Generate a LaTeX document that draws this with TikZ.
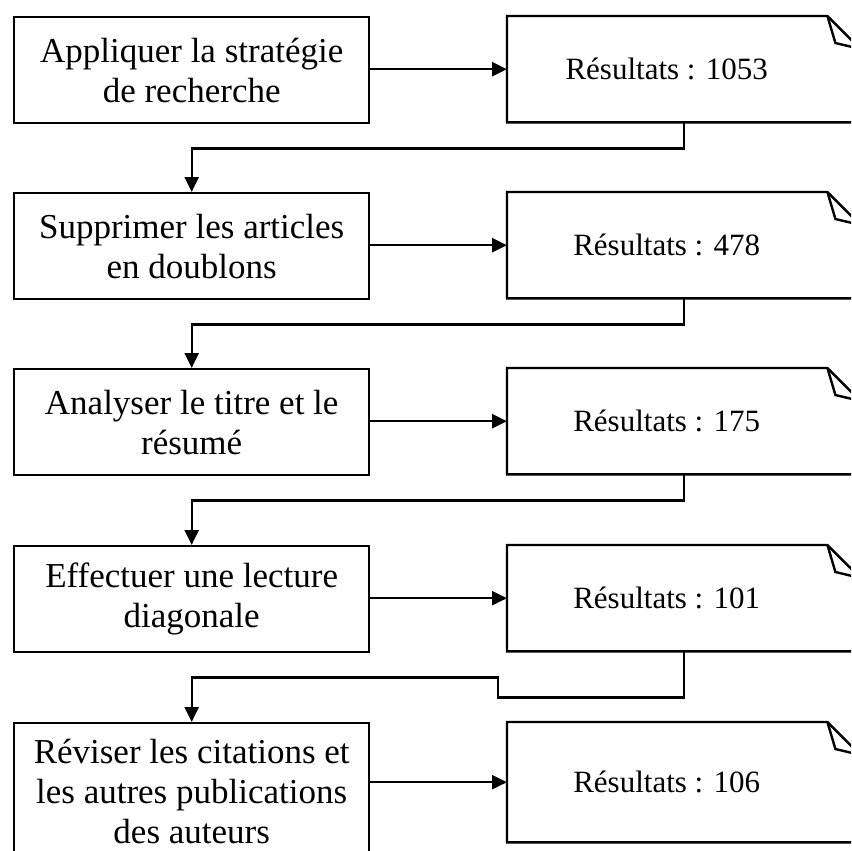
\documentclass[tikz,border=0pt]{standalone}
\usepackage{fontspec}
\setmainfont{Liberation Serif}
\usetikzlibrary{arrows.meta}

% text of a result box, centred left of the folded corner
\newcommand\restext[1]{\makebox[353pt][l]{\makebox[319pt]{#1}}}

\begin{document}
\begin{tikzpicture}[x=1pt,y=-1pt,
  every node/.style={inner sep=0pt},
  stepbox/.style={draw, line width=2.4pt, anchor=north west, align=center,
                  font=\fontsize{35pt}{40pt}\selectfont,
                  minimum width=355pt, minimum height=106pt},
  resbox/.style={anchor=north west, font=\fontsize{31pt}{36pt}\selectfont,
                 minimum width=353pt, minimum height=106pt},
  outline/.style={line width=2.4pt, line join=miter},
  flow/.style={line width=2.4pt, -{Triangle[length=15pt,width=14pt]}}]
\useasboundingbox (0,0) rectangle (851,851);
\clip (0,0) rectangle (851,851);

% process steps
\node[stepbox] (l1) at (13,16)  {Appliquer la stratégie\\de recherche};
\node[stepbox] (l2) at (13,192) {Supprimer les articles\\en doublons};
\node[stepbox] (l3) at (13,368) {Analyser le titre et le\\résumé};
\node[stepbox] (l4) at (13,545) {Effectuer une lecture\\diagonale};
\node[stepbox, minimum height=136pt] (l5) at (13,722)
  {Réviser les citations et\\les autres publications\\des auteurs};

% result notes
\node[resbox] (r1) at (507,16)  {\restext{Résultats : 1053}};
\node[resbox] (r2) at (507,192) {\restext{Résultats : 478}};
\node[resbox] (r3) at (507,368) {\restext{Résultats : 175}};
\node[resbox] (r4) at (507,545) {\restext{Résultats : 101}};
\node[resbox, minimum height=120pt] (r5) at (507,722) {\restext{Résultats : 106}};

% note outlines with the folded top-right corner
\foreach \r in {r1,r2,r3,r4,r5}{
  \draw[outline] (\r.north west) -- ([xshift=-33pt]\r.north east)
    -- ([yshift=-33pt]\r.north east) -- (\r.south east)
    -- (\r.south west) -- cycle;
  \draw[outline] ([xshift=-33pt]\r.north east)
    -- ([xshift=-25pt,yshift=-27pt]\r.north east)
    -- ([yshift=-33pt]\r.north east);
}

% step -> result
\foreach \i in {1,...,5}{
  \draw[flow] (l\i.east |- r\i.west) -- (r\i.west);
}

% result -> next step
\draw[flow] (r1.south) -- ++(0,26) -| (l2.north);
\draw[flow] (r2.south) -- ++(0,26) -| (l3.north);
\draw[flow] (r3.south) -- ++(0,26) -| (l4.north);
\draw[flow] (r4.south) -- ++(0,46) -- ++(-186,0) -- ++(0,-20) -| (l5.north);
\end{tikzpicture}
\end{document}
